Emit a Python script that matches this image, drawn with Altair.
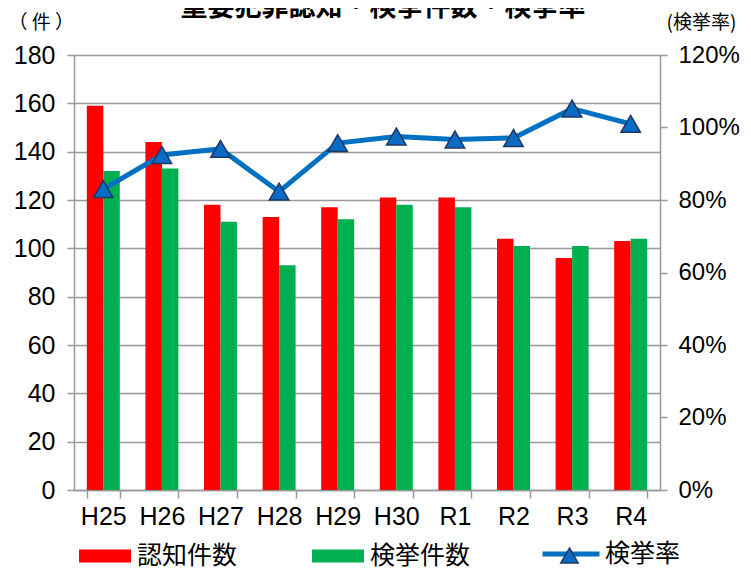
import altair as alt
import pandas as pd

years = ["H25", "H26", "H27", "H28", "H29", "H30", "R1", "R2", "R3", "R4"]
ninchi = [159, 144, 118, 113, 117, 121, 121, 104, 96, 103]
kenkyo = [132, 133, 111, 93, 112, 118, 117, 101, 101, 104]
rate = [0.830, 0.924, 0.941, 0.823, 0.957, 0.975, 0.967, 0.971, 1.052, 1.010]
series_names = ["認知件数", "検挙件数"]
series_colors = ["#FF0000", "#00B050"]
rate_name = "検挙率"

bar_rows = []
for i, y in enumerate(years):
    bar_rows.append({"year": y, "series": series_names[0], "value": ninchi[i]})
    bar_rows.append({"year": y, "series": series_names[1], "value": kenkyo[i]})
bars_df = pd.DataFrame(bar_rows)
rate_df = pd.DataFrame({"year": years, "rate": rate,
                        "rname": [rate_name] * len(years),
                        "rname2": [rate_name] * len(years)})

NUM_FONT = "Liberation Sans"
JP_FONT = "Noto Sans CJK JP"
GRAY = "#999999"
LEG_C = 501  # legend row centre, relative to plot top

x_enc = alt.X(
    "year:N", sort=years,
    scale=alt.Scale(paddingInner=0.437, paddingOuter=0.2185),
    axis=alt.Axis(title=None, labelFont=NUM_FONT, labelFontSize=25, labelColor="#000",
                  labelAngle=0, tickBand="extent", tickSize=8, tickColor=GRAY, tickWidth=1.5,
                  domainColor=GRAY, domainWidth=1.5, labelPadding=6, grid=False),
)

bars = alt.Chart(bars_df).mark_bar().encode(
    x=x_enc,
    xOffset=alt.XOffset("series:N", sort=series_names, scale=alt.Scale(paddingInner=0)),
    y=alt.Y("value:Q", scale=alt.Scale(domain=[0, 180]),
            axis=alt.Axis(values=list(range(0, 181, 20)), title="（ 件 ）", titleAngle=0,
                          titleX=-66, titleY=-33, titleAlign="left", titleBaseline="middle",
                          titleFont=JP_FONT, titleFontSize=19, titleFontWeight="normal",
                          titleColor="#000",
                          labelFont=NUM_FONT, labelFontSize=25, labelColor="#000",
                          labelPadding=12, tickSize=7, tickColor=GRAY, tickWidth=1.5,
                          domainColor=GRAY, domainWidth=1.5,
                          grid=True, gridColor=GRAY, gridWidth=1.5)),
    color=alt.Color("series:N", sort=series_names,
                    scale=alt.Scale(domain=series_names, range=series_colors),
                    legend=alt.Legend(title=None, orient="none", direction="horizontal",
                                      legendX=5, legendY=LEG_C - 26, padding=0,
                                      symbolType="M-1,-0.25H1V0.25H-1Z", symbolSize=2704,
                                      symbolStrokeWidth=0, symbolOpacity=1,
                                      labelFont=JP_FONT, labelFontSize=25, labelColor="#000",
                                      labelOffset=6, columnPadding=74)),
)

y2 = alt.Y("rate:Q", scale=alt.Scale(domain=[0, 1.2]),
           axis=alt.Axis(orient="right", format=".0%",
                         values=[0, 0.2, 0.4, 0.6, 0.8, 1.0, 1.2],
                         title="(検挙率)", titleAngle=0, titleX=6, titleY=-33,
                         titleAlign="left", titleBaseline="middle", titleFont=JP_FONT,
                         titleFontSize=19, titleFontWeight="normal", titleColor="#000",
                         labelFont=NUM_FONT, labelFontSize=24, labelColor="#000",
                         labelPadding=11, tickSize=7, tickColor=GRAY, tickWidth=1.5,
                         domainColor=GRAY, domainWidth=1.5, grid=False))

line = alt.Chart(rate_df).mark_line(strokeWidth=5).encode(
    x=alt.X("year:N", sort=years),
    y=y2,
    stroke=alt.Stroke("rname:N", scale=alt.Scale(range=["#0070C0"]),
                      legend=alt.Legend(title=None, orient="none", legendX=466,
                                        legendY=LEG_C - 33,
                                        padding=0, symbolType="M-1,0H1", symbolSize=3249,
                                        symbolStrokeWidth=5, symbolStrokeColor="#0070C0",
                                        labelFont=JP_FONT, labelFontSize=25,
                                        labelColor="#000", labelOffset=3)),
)

points = alt.Chart(rate_df).mark_point(
    shape="triangle-up", size=380, filled=True, fillOpacity=1,
    stroke="#1F3864", strokeWidth=1.5, opacity=1
).encode(
    x=alt.X("year:N", sort=years),
    y=y2,
    fill=alt.Fill("rname2:N", scale=alt.Scale(range=["#0A6BC4"]),
                  legend=alt.Legend(title=None, orient="none", legendX=486,
                                    legendY=LEG_C - 10,
                                    padding=0, symbolType="triangle-up", symbolSize=300,
                                    symbolStrokeColor="#1F3864", symbolStrokeWidth=1.5,
                                    labelExpr="''", labelFontSize=1)),
)

rate_layer = alt.layer(line, points)

chart = alt.layer(bars, rate_layer).resolve_scale(
    y="independent", color="independent"
).properties(
    width=586, height=435,
    padding={"left": 66, "top": 47, "right": 83, "bottom": 80},
    autosize=alt.AutoSizeParams(type="none"),
    title=alt.TitleParams("重要犯罪認知・検挙件数・検挙率", font=JP_FONT, fontSize=27,
                          fontWeight="bold", color="#000", anchor="middle", frame="group",
                          offset=0, baseline="alphabetic", dx=16, dy=30),
).configure_view(stroke=None)

chart.save("out.html", embed_options={"renderer": "svg", "actions": False})
